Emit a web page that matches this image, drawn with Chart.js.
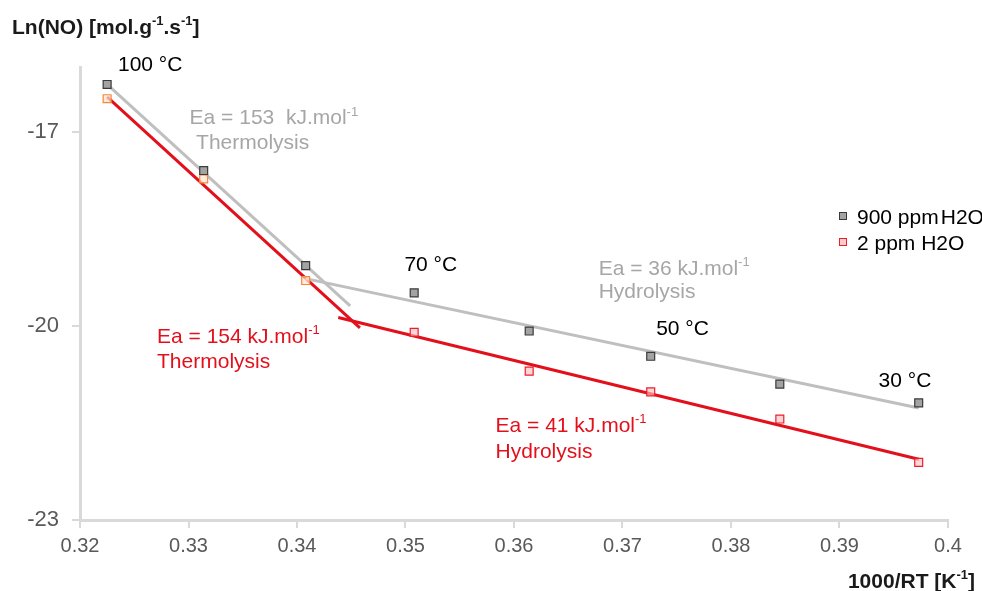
<!DOCTYPE html>
<html>
<head>
<meta charset="utf-8">
<script src="https://cdn.jsdelivr.net/npm/chart.js@4/dist/chart.umd.min.js"></script>
<style>
  html, body { margin: 0; padding: 0; background: #fff; }
  #wrap { width: 982px; height: 591px; position: relative; }
</style>
</head>
<body>
<div id="wrap"><canvas id="c"></canvas></div>
<script>
// 1000/RT values of the measurement temperatures
const invRT = [0.3225, 0.3314, 0.3408, 0.3508, 0.3614, 0.3726, 0.3845, 0.3973];
// ln(NO) at 900 ppm and 2 ppm water
const lnNO900 = [-16.27, -17.60, -19.07, -19.49, -20.08, -20.47, -20.90, -21.19];
const lnNO2 = [-16.49, -17.73, -19.30, -20.10, -20.70, -21.02, -21.44, -22.11];

// Arrhenius fit segments (x: 1000/RT, y: ln NO)
const fit900ThermoX = [0.3225, 0.3449];
const fit900ThermoY = [-16.27, -19.69];
const fit900HydroX = [0.3408, 0.3973];
const fit900HydroY = [-19.27, -21.27];
const fit2ThermoX = [0.3225, 0.3458];
const fit2ThermoY = [-16.46, -20.03];
const fit2HydroX = [0.3438, 0.3973];
const fit2HydroY = [-19.87, -22.06];

const xTicks = [0.32, 0.33, 0.34, 0.35, 0.36, 0.37, 0.38, 0.39, 0.40];
const yTicks = [-23, -20, -17];
const seriesNames = ['900 ppm H2O', '2 ppm H2O'];

const FONT = '"Liberation Sans", Arial, sans-serif';
const GREY_LINE = '#bfbfbf';
const RED_LINE = '#e3101c';
const LABEL_SIZE = 21;

const pts = (xs, ys) => xs.map((x, i) => ({ x: x, y: ys[i] }));

// first three 2 ppm points are drawn in orange
const redBorder = invRT.map((_, i) => i < 3 ? '#f08a3c' : '#e8202a');
const redFill = invRT.map((_, i) => i < 3 ? 'rgba(255,225,205,0.7)' : 'rgba(255,190,195,0.65)');

// text placed on the plot, anchored in data units
const notes = [
  { x: 0.3235, y: -15.95, color: '#000', parts: [['100 °C']] },
  { x: 0.3301, y: -16.77, color: '#a6a6a6', parts: [['Ea = 153  kJ.mol'], ['-1', 1]] },
  { x: 0.3307, y: -17.15, color: '#a6a6a6', parts: [['Thermolysis']] },
  { x: 0.3499, y: -19.04, color: '#000', parts: [['70 °C']] },
  { x: 0.3678, y: -19.09, color: '#a6a6a6', parts: [['Ea = 36 kJ.mol'], ['-1', 1]] },
  { x: 0.3678, y: -19.46, color: '#a6a6a6', parts: [['Hydrolysis']] },
  { x: 0.3731, y: -20.03, color: '#000', parts: [['50 °C']] },
  { x: 0.3936, y: -20.83, color: '#000', parts: [['30 °C']] },
  { x: 0.3271, y: -20.15, color: '#e3101c', parts: [['Ea = 154 kJ.mol'], ['-1', 1]] },
  { x: 0.3271, y: -20.53, color: '#e3101c', parts: [['Thermolysis']] },
  { x: 0.3583, y: -21.52, color: '#e3101c', parts: [['Ea = 41 kJ.mol'], ['-1', 1]] },
  { x: 0.3583, y: -21.92, color: '#e3101c', parts: [['Hydrolysis']] }
];

// draws text with optional superscript pieces, left aligned, vertically centred
function richText(ctx, x, y, parts, size, weight, color) {
  ctx.save();
  ctx.fillStyle = color;
  ctx.textBaseline = 'alphabetic';
  ctx.textAlign = 'left';
  let cx = x;
  const base = y + size * 0.36;
  parts.forEach(p => {
    const sup = !!p[1];
    const fs = sup ? Math.round(size * 0.6) : size;
    ctx.font = weight + ' ' + fs + 'px ' + FONT;
    ctx.fillText(p[0], cx, sup ? base - size * 0.42 : base);
    cx += ctx.measureText(p[0]).width;
  });
  ctx.restore();
  return cx - x;
}

function richWidth(ctx, parts, size, weight) {
  ctx.save();
  let w = 0;
  parts.forEach(p => {
    ctx.font = weight + ' ' + (p[1] ? Math.round(size * 0.6) : size) + 'px ' + FONT;
    w += ctx.measureText(p[0]).width;
  });
  ctx.restore();
  return w;
}

const overlay = {
  id: 'overlay',
  afterDraw(chart) {
    const ctx = chart.ctx;
    const xs = chart.scales.x, ys = chart.scales.y;
    notes.forEach(n => {
      richText(ctx, xs.getPixelForValue(n.x), ys.getPixelForValue(n.y), n.parts, LABEL_SIZE, 'normal', n.color);
    });
    // axis titles
    richText(ctx, 12, 26, [['Ln(NO) [mol.g'], ['-1', 1], ['.s'], ['-1', 1], [']']], 21, 'bold', '#1a1a1a');
    const xt = [['1000/RT [K'], ['-1', 1], [']']];
    richText(ctx, 975 - richWidth(ctx, xt, 21, 'bold'), 580, xt, 21, 'bold', '#1a1a1a');

    // legend: square marker followed by the series name
    const ds = chart.data.datasets.filter(d => d.legendRow !== undefined);
    ds.forEach(d => {
      const ly = 216 + d.legendRow * 26;
      ctx.save();
      ctx.fillStyle = d.legendFill;
      ctx.strokeStyle = d.legendBorder;
      ctx.lineWidth = 1;
      ctx.fillRect(839.5, ly - 3.5, 7, 7);
      ctx.strokeRect(839.5, ly - 3.5, 7, 7);
      ctx.font = LABEL_SIZE + 'px ' + FONT;
      const words = d.label.split(' ');
      const head = words.slice(0, -1).join(' ');
      const tail = words[words.length - 1];
      const gap = d.legendGap !== undefined ? d.legendGap : ctx.measureText(' ').width;
      const hw = ctx.measureText(head).width;
      ctx.restore();
      richText(ctx, 857, ly, [[head]], LABEL_SIZE, 'normal', '#000');
      richText(ctx, 857 + hw + gap, ly, [[tail]], LABEL_SIZE, 'normal', '#000');
    });
  }
};

const lineDs = (label, data, color) => ({
  label: label, data: data, showLine: true, borderColor: color, borderWidth: 3,
  pointRadius: 0, pointHoverRadius: 0, fill: false, order: 1
});

new Chart(document.getElementById('c'), {
  type: 'scatter',
  data: {
    datasets: [
      lineDs('fit 900 thermolysis', pts(fit900ThermoX, fit900ThermoY), GREY_LINE),
      lineDs('fit 900 hydrolysis', pts(fit900HydroX, fit900HydroY), GREY_LINE),
      lineDs('fit 2 thermolysis', pts(fit2ThermoX, fit2ThermoY), RED_LINE),
      lineDs('fit 2 hydrolysis', pts(fit2HydroX, fit2HydroY), RED_LINE),
      {
        label: seriesNames[0], data: pts(invRT, lnNO900), pointStyle: 'rect',
        pointRadius: 5.6, pointBorderWidth: 1.2, backgroundColor: '#a3a3a3', borderColor: '#3a3a3a',
        order: 0, legendRow: 0, legendGap: 2, legendFill: '#a3a3a3', legendBorder: '#3a3a3a'
      },
      {
        label: seriesNames[1], data: pts(invRT, lnNO2), pointStyle: 'rect',
        pointRadius: 5.6, pointBorderWidth: 1.2, backgroundColor: redFill, borderColor: redBorder,
        order: 0, legendRow: 1, legendFill: 'rgba(255,190,195,0.8)', legendBorder: '#e8202a'
      }
    ]
  },
  options: {
    responsive: true,
    maintainAspectRatio: false,
    animation: false,
    events: [],
    layout: { padding: { top: 67, right: 34, left: 0, bottom: 0 } },
    plugins: { legend: { display: false }, tooltip: { enabled: false } },
    scales: {
      x: {
        type: 'linear', min: xTicks[0], max: xTicks[xTicks.length - 1],
        afterFit: s => { s.height = 71; },
        afterBuildTicks: s => { s.ticks = xTicks.map(v => ({ value: v })); },
        border: { color: '#d9d9d9', width: 3 },
        grid: { drawOnChartArea: false, drawTicks: true, tickLength: 8, color: '#d9d9d9', lineWidth: 2 },
        ticks: {
          padding: 6, color: '#595959', font: { family: FONT, size: 20 },
          callback: v => String(parseFloat(Number(v).toFixed(2)))
        }
      },
      y: {
        type: 'linear', min: -23, max: -16,
        afterFit: s => { s.width = 80; },
        afterBuildTicks: s => { s.ticks = yTicks.map(v => ({ value: v })); },
        border: { color: '#d9d9d9', width: 3 },
        grid: { drawOnChartArea: false, drawTicks: true, tickLength: 8, color: '#d9d9d9', lineWidth: 2 },
        ticks: {
          padding: 13, color: '#595959', font: { family: FONT, size: 22 },
          callback: v => String(v)
        }
      }
    }
  },
  plugins: [overlay]
});
</script>
</body>
</html>
